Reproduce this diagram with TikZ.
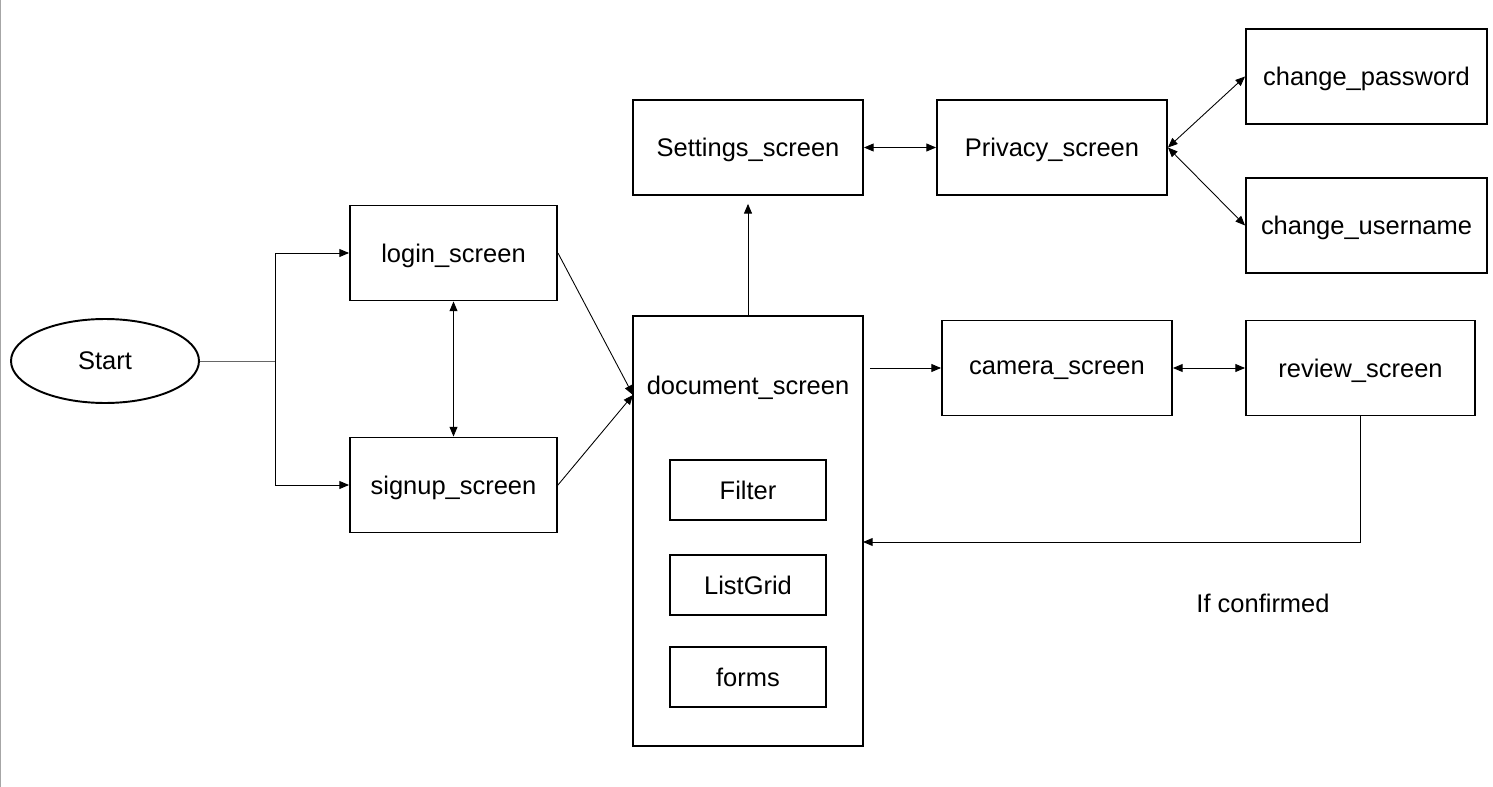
\documentclass[tikz,border=0pt]{standalone}
\usepackage{fontspec}
\setmainfont{Liberation Sans}
\usetikzlibrary{arrows.meta,shapes.geometric}

\tikzset{
    screen/.style={rectangle, draw, line width=1.1pt, minimum width=4.6cm, minimum height=1.9cm, inner sep=0pt, text depth=0pt},
    widget/.style={rectangle, draw, line width=1.1pt, minimum width=3.12cm, minimum height=1.2cm, inner sep=0pt, text depth=0pt},
}

\begin{document}
\begin{tikzpicture}[x=0.02cm, y=-0.02cm, font=\fontsize{14.5}{17}\selectfont]
    \useasboundingbox (0,0) rectangle (1493,787);
    \draw[gray!70, line width=0.8pt] (0.5,0) -- (0.5,787);

    \begin{scope}[every node/.style={screen}]
        \node[ellipse, minimum width=3.76cm, minimum height=1.68cm] (start) at (105,361) {Start};
        \node[minimum width=4.14cm] (login) at (453.5,253) {login\_screen};
        \node[minimum width=4.14cm] (signup) at (453.5,485) {signup\_screen};
        \node (settings) at (748,147.5) {Settings\_screen};
        \node (privacy) at (1052,147.5) {Privacy\_screen};
        \node[minimum width=4.82cm] (password) at (1366.5,76.5) {change\_password};
        \node[minimum width=4.82cm] (username) at (1366.5,225.5) {change\_username};
        \node[minimum height=8.6cm] (doc) at (748,531) {};
        \node (camera) at (1057,368) {camera\_screen};
        \node[minimum width=4.58cm] (review) at (1360.5,368) {review\_screen};
    \end{scope}

    \node[text depth=0pt] (doctitle) at (748,385) {document\_screen};
    \begin{scope}[every node/.style={widget}]
        \node (filter) at (748,490) {Filter};
        \node (listgrid) at (748,585) {ListGrid};
        \node (forms) at (748,677) {forms};
    \end{scope}
    \node[text depth=0pt] (confirmed) at (1263,603) {If confirmed};

    \coordinate (split) at (275,361);
    \coordinate (docin) at (633,395);
    \coordinate (docback) at (863,542);

    \begin{scope}[>={Triangle[length=5.5pt, width=4.5pt]}, line width=0.5pt, every edge/.style={draw, line width=0.5pt}]
        \draw[gray!80!black] (start) -- (split);
        \draw[->] (split) |- (login);
        \draw[->] (split) |- (signup);
        \path [<->] (login) edge (signup);
        \path [->] (login.east) edge (docin);
        \path [->] (signup.east) edge (docin);
        \path [->] (doc.north) edge[shorten >=4.5pt] (settings.south);
        \path [<->] (settings) edge (privacy);
        \path [<->] (privacy.east) edge (password.west);
        \path [<->] (privacy.east) edge (username.west);
        \path [->] (doc.east |- camera.west) edge[shorten <=3.4pt] (camera.west);
        \path [<->] (camera) edge (review);
        \draw[->] (review.south) |- (docback);
    \end{scope}
\end{tikzpicture}
\end{document}
